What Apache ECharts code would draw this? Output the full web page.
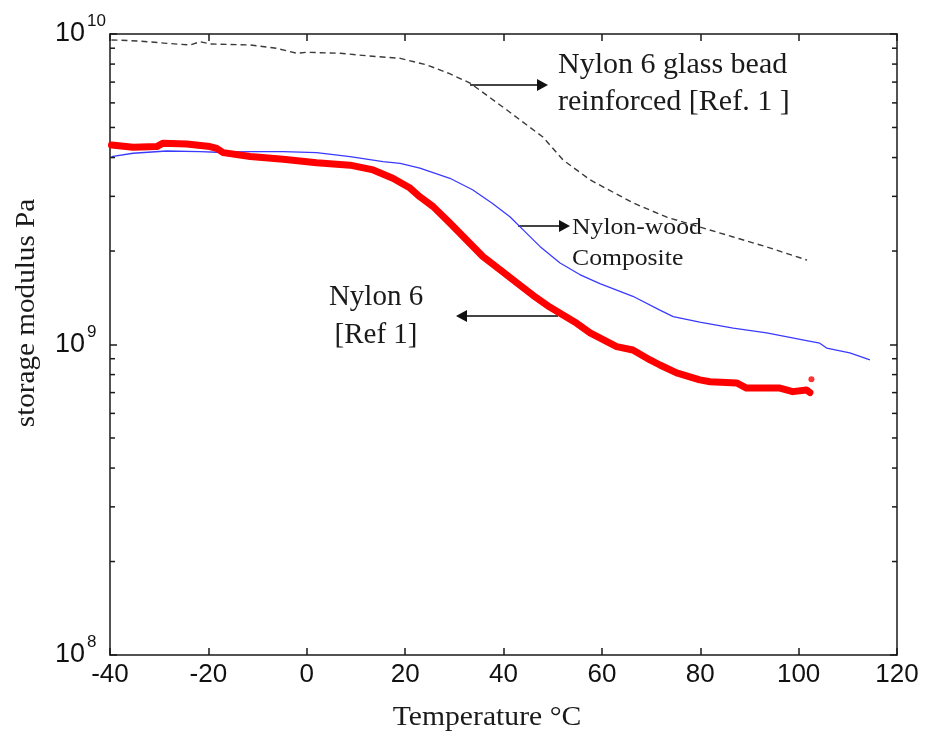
<!DOCTYPE html>
<html>
<head>
<meta charset="utf-8">
<script src="https://cdn.jsdelivr.net/npm/echarts@6/dist/echarts.min.js"></script>
<style>
  html, body { margin: 0; padding: 0; background: #fff; }
  #chart { width: 925px; height: 736px; }
</style>
</head>
<body>
<div id="chart"></div>
<script>
// Storage modulus (Pa) versus temperature (°C)
const glassBead = [
  [-39.7, 9.57e9], [-33.9, 9.49e9], [-28.5, 9.33e9], [-23.7, 9.22e9], [-21.7, 9.44e9],
  [-19.6, 9.29e9], [-11.5, 9.22e9], [-6.1, 8.99e9], [-2.0, 8.67e9], [0.0, 8.73e9],
  [6.8, 8.67e9], [12.2, 8.51e9], [19.0, 8.35e9], [24.4, 7.95e9], [28.7, 7.49e9],
  [33.2, 6.95e9], [40.7, 5.69e9], [48.0, 4.66e9], [52.1, 3.93e9], [57.6, 3.39e9],
  [66.3, 2.86e9], [73.2, 2.57e9], [79.9, 2.39e9], [86.7, 2.22e9], [93.6, 2.06e9],
  [101.7, 1.87e9]
];
const nylonWood = [
  [-39.7, 4.03e9], [-35.3, 4.13e9], [-28.5, 4.20e9], [-21.7, 4.18e9], [-18.3, 4.16e9],
  [-11.5, 4.18e9], [-4.8, 4.18e9], [2.0, 4.15e9], [8.8, 4.03e9], [15.5, 3.88e9],
  [19.0, 3.83e9], [23.0, 3.70e9], [29.1, 3.43e9], [33.7, 3.15e9], [37.7, 2.85e9],
  [41.3, 2.58e9], [44.0, 2.34e9], [47.4, 2.07e9], [51.5, 1.83e9], [55.5, 1.68e9],
  [59.6, 1.57e9], [66.3, 1.43e9], [71.8, 1.29e9], [74.5, 1.23e9], [79.9, 1.18e9],
  [86.7, 1.13e9], [93.5, 1.09e9], [101.6, 1.03e9], [104.3, 1.01e9], [105.7, 9.74e8],
  [110.4, 9.39e8], [114.5, 8.92e8]
];
const nylon6 = [
  [-39.7, 4.39e9], [-35.3, 4.32e9], [-30.5, 4.34e9], [-29.2, 4.45e9], [-24.4, 4.42e9],
  [-19.7, 4.34e9], [-18.3, 4.28e9], [-17.0, 4.15e9], [-11.5, 4.03e9], [-4.8, 3.95e9],
  [2.0, 3.85e9], [8.8, 3.78e9], [13.5, 3.65e9], [17.5, 3.43e9], [21.0, 3.19e9],
  [23.0, 2.99e9], [25.7, 2.78e9], [29.1, 2.46e9], [32.5, 2.17e9], [35.8, 1.92e9],
  [39.3, 1.74e9], [42.7, 1.58e9], [46.0, 1.44e9], [49.4, 1.32e9], [51.5, 1.26e9],
  [54.9, 1.17e9], [57.6, 1.09e9], [63.0, 9.84e8], [66.3, 9.60e8], [69.8, 8.92e8],
  [71.8, 8.59e8], [75.2, 8.10e8], [79.9, 7.69e8], [82.0, 7.59e8], [87.4, 7.52e8],
  [89.4, 7.24e8], [96.2, 7.24e8], [98.8, 7.05e8], [101.6, 7.14e8], [102.3, 7.00e8]
];
const nylon6Last = [[102.6, 7.73e8]];

const xTicks = [-40, 120, 20];          // min, max, step
const yRange = [1e8, 1e10];
const minorTickValues = [2e8, 3e8, 4e8, 5e8, 6e8, 7e8, 8e8, 9e8, 2e9, 3e9, 4e9, 5e9, 6e9, 7e9, 8e9, 9e9];

const SANS = '"Liberation Sans", Arial, sans-serif';
const SERIF = '"Liberation Serif", "Times New Roman", serif';
const INK = '#1a1a1a';

const chart = echarts.init(document.getElementById('chart'), null, { renderer: 'canvas' });

const frameLine = { show: true, onZero: false, lineStyle: { color: INK, width: 1.5 } };

function arrow(x1, x2, y) {
  const dir = x2 > x1 ? 1 : -1;
  const head = 11;
  return {
    type: 'group',
    silent: true,
    children: [
      { type: 'line', shape: { x1: x1, y1: y, x2: x2 - dir * head, y2: y },
        style: { stroke: '#444', lineWidth: 2 } },
      { type: 'polygon', shape: { points: [[x2, y], [x2 - dir * head, y - 6], [x2 - dir * head, y + 6]] },
        style: { fill: '#111' } }
    ]
  };
}
function label(text, x, y, size, align, sx) {
  return {
    type: 'text', x: x, y: y, silent: true, scaleX: sx || 1,
    style: { text: text, font: size + 'px ' + SERIF, fill: INK, align: align || 'left', verticalAlign: 'middle' }
  };
}

chart.setOption({
  animation: false,
  backgroundColor: '#fff',
  grid: { left: 110, right: 28, top: 34, bottom: 81 },
  xAxis: [
    {
      type: 'value', min: xTicks[0], max: xTicks[1], interval: xTicks[2],
      axisLine: frameLine,
      axisTick: { inside: true, length: 7, lineStyle: { color: INK, width: 1.5 } },
      splitLine: { show: false },
      axisLabel: { fontSize: 26, fontFamily: SANS, color: '#111', margin: 7 }
    },
    {
      type: 'value', position: 'top', min: xTicks[0], max: xTicks[1], interval: xTicks[2],
      axisLine: frameLine,
      axisTick: { inside: true, length: 7, lineStyle: { color: INK, width: 1.5 } },
      splitLine: { show: false },
      axisLabel: { show: false }
    }
  ],
  yAxis: [
    {
      type: 'log', logBase: 10, min: yRange[0], max: yRange[1],
      axisLine: frameLine,
      axisTick: { inside: true, length: 7, lineStyle: { color: INK, width: 1.5 } },
      splitLine: { show: false },
      axisLabel: {
        align: 'left', margin: 55, color: '#111',
        formatter: function (v) {
          const e = Math.round(Math.log10(v));
          return '{b|10}{s|' + e + '}';
        },
        rich: {
          b: { fontSize: 27, fontFamily: SANS, color: '#111', verticalAlign: 'middle', lineHeight: 42 },
          s: { fontSize: 17, fontFamily: SANS, color: '#111', verticalAlign: 'top', lineHeight: 17, padding: [0, 0, 0, 2] }
        }
      }
    },
    {
      type: 'log', logBase: 10, min: yRange[0], max: yRange[1], position: 'right',
      axisLine: frameLine,
      axisTick: { inside: true, length: 7, lineStyle: { color: INK, width: 1.5 } },
      splitLine: { show: false },
      axisLabel: { show: false }
    }
  ],
  series: [
    {
      name: 'Nylon 6 glass bead reinforced', type: 'line', data: glassBead,
      showSymbol: false, symbol: 'none', smooth: false,
      lineStyle: { color: '#3a3a3a', width: 1.4, type: [6, 4] }, z: 3
    },
    {
      name: 'Nylon-wood Composite', type: 'line', data: nylonWood,
      showSymbol: false, symbol: 'none',
      lineStyle: { color: '#3a3aff', width: 1.3 }, z: 4
    },
    {
      name: 'Nylon 6', type: 'line', data: nylon6,
      showSymbol: false, symbol: 'none',
      lineStyle: { color: '#ff0000', width: 7, cap: 'round', join: 'round' }, z: 5
    },
    {
      name: 'Nylon 6 end', type: 'scatter', data: nylon6Last,
      symbol: 'circle', symbolSize: 6, itemStyle: { color: '#ff0000' }, z: 5
    },
    {
      // minor ticks of the logarithmic axis, drawn on both sides of the frame
      type: 'custom', silent: true, clip: false, z: 6,
      data: minorTickValues.map(v => [xTicks[0], v]),
      renderItem: function (params, api) {
        const p = api.coord([xTicks[0], api.value(1)]);
        const cs = params.coordSys;
        const len = 5;
        const st = { stroke: INK, lineWidth: 1.5 };
        return {
          type: 'group',
          children: [
            { type: 'line', shape: { x1: cs.x, y1: p[1], x2: cs.x + len, y2: p[1] }, style: st },
            { type: 'line', shape: { x1: cs.x + cs.width, y1: p[1], x2: cs.x + cs.width - len, y2: p[1] }, style: st }
          ]
        };
      }
    }
  ],
  graphic: [
    label('Nylon 6 glass bead', 558, 65, 29, 'left', 1.035),
    label('reinforced [Ref. 1 ]', 558, 102, 29, 'left', 1.035),
    arrow(470, 548, 85),
    label('Nylon-wood', 572, 228, 24, 'left', 1.07),
    label('Composite', 572, 259, 24, 'left', 1.07),
    arrow(518, 570, 226),
    label('Nylon 6', 376, 297, 29, 'center'),
    label('[Ref 1]', 376, 335, 29, 'center'),
    arrow(558, 456, 316),
    label('Temperature °C', 487, 718, 28, 'center', 1.06),
    {
      type: 'text', x: 27, y: 313, rotation: Math.PI / 2, scaleX: 1.08, silent: true,
      style: { text: 'storage modulus Pa', font: '27px ' + SERIF, fill: INK, align: 'center', verticalAlign: 'middle' }
    }
  ]
});
</script>
</body>
</html>
